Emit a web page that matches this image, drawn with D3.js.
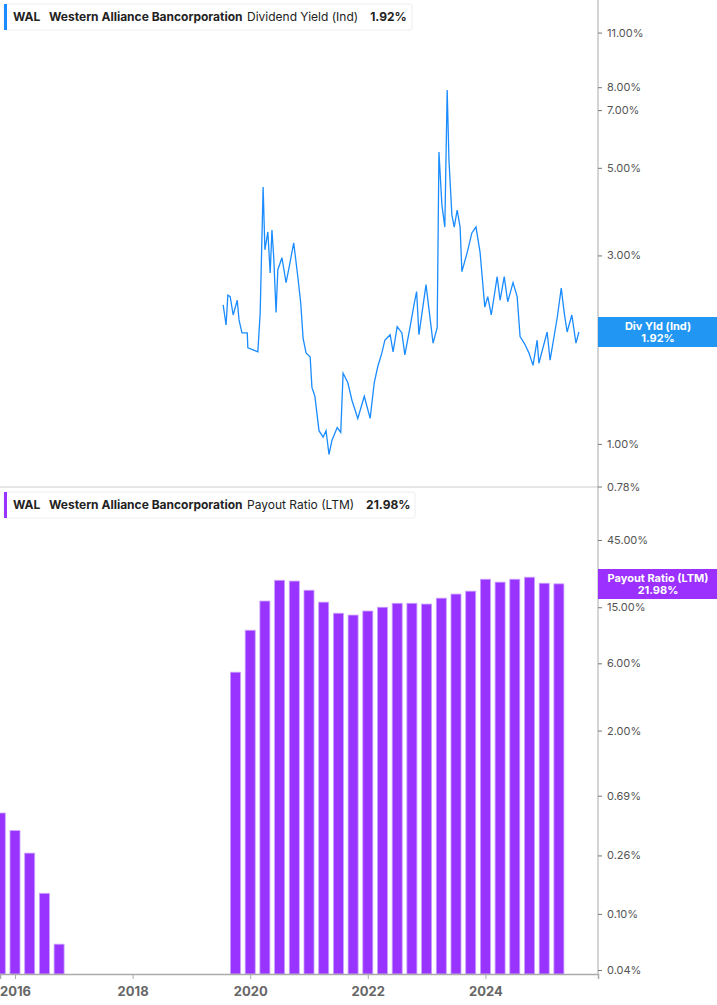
<!DOCTYPE html>
<html>
<head>
<meta charset="utf-8">
<script src="https://cdn.jsdelivr.net/npm/d3@7"></script>
<style>
  body { margin: 0; background: #fff; font-family: Inter, "Noto Sans", sans-serif; }
</style>
</head>
<body>
<svg id="chart" width="717" height="1005"></svg>
<script>
// dividend yield (%), decimal year dates
var yieldDates = [2019.54, 2019.59, 2019.62, 2019.66, 2019.71, 2019.78, 2019.81, 2019.86, 2019.95, 2019.96,
    2020.05, 2020.13, 2020.17, 2020.22, 2020.25, 2020.30, 2020.34, 2020.37, 2020.40, 2020.44,
    2020.47, 2020.54, 2020.61, 2020.66, 2020.74, 2020.81, 2020.86, 2020.90, 2020.95, 2021.02,
    2021.05, 2021.10, 2021.17, 2021.24, 2021.29, 2021.34, 2021.39, 2021.48, 2021.54, 2021.58,
    2021.66, 2021.73, 2021.83, 2021.94, 2022.04, 2022.11, 2022.17, 2022.24, 2022.29, 2022.38,
    2022.43, 2022.50, 2022.58, 2022.63, 2022.72, 2022.79, 2022.83, 2022.87, 2022.99, 2023.11,
    2023.18, 2023.21, 2023.26, 2023.31, 2023.35, 2023.38, 2023.43, 2023.47, 2023.52, 2023.57,
    2023.60, 2023.69, 2023.77, 2023.84, 2023.91, 2023.99, 2024.04, 2024.10, 2024.20, 2024.25,
    2024.32, 2024.38, 2024.47, 2024.54, 2024.59, 2024.66, 2024.74, 2024.81, 2024.88, 2024.91,
    2025.05, 2025.10, 2025.22, 2025.29, 2025.34, 2025.39, 2025.47, 2025.54, 2025.59];
var yieldValues = [2.25, 2.00, 2.38, 2.36, 2.12, 2.31, 2.06, 1.91, 1.91, 1.75,
    1.73, 1.71, 2.15, 4.47, 3.10, 3.44, 2.71, 3.48, 2.97, 2.15,
    2.76, 2.96, 2.56, 2.79, 3.23, 2.65, 2.27, 1.85, 1.70, 1.66,
    1.39, 1.32, 1.08, 1.04, 1.08, 0.94, 1.02, 1.10, 1.07, 1.51,
    1.43, 1.29, 1.16, 1.32, 1.16, 1.43, 1.57, 1.70, 1.83, 1.89,
    1.71, 1.98, 1.91, 1.68, 1.98, 2.27, 2.43, 1.89, 2.53, 1.80,
    1.97, 5.48, 4.03, 3.54, 7.87, 5.24, 3.80, 3.54, 3.91, 3.54,
    2.73, 3.05, 3.42, 3.54, 3.05, 2.22, 2.36, 2.12, 2.65, 2.31,
    2.65, 2.29, 2.56, 2.36, 1.87, 1.80, 1.70, 1.58, 1.83, 1.60,
    1.92, 1.63, 2.08, 2.48, 2.15, 1.92, 2.12, 1.80, 1.92];

// payout ratio (LTM, %), quarterly
var payoutDates = [2015.75, 2016.00, 2016.25, 2016.50, 2016.75,
    2019.75, 2020.00, 2020.25, 2020.50, 2020.75, 2021.00, 2021.25, 2021.50, 2021.75,
    2022.00, 2022.25, 2022.50, 2022.75, 2023.00, 2023.25, 2023.50, 2023.75,
    2024.00, 2024.25, 2024.50, 2024.75, 2025.00, 2025.25];
var payoutValues = [0.52, 0.39, 0.27, 0.14, 0.061,
    5.19, 10.3, 16.6, 23.3, 23.0, 19.8, 16.3, 13.6, 13.2,
    14.1, 15.0, 16.0, 16.0, 15.8, 17.4, 18.6, 19.5,
    23.7, 22.6, 23.7, 24.5, 22.2, 21.98];

var yieldTicks = [11, 8, 7, 5, 3, 2, 1, 0.78];
var payoutTicks = [45, 15, 6, 2, 0.69, 0.26, 0.10, 0.04];
var yearTicks = [2016, 2018, 2020, 2022, 2024];

var blue = "#1a8cff", purple = "#9933ff", grey = "#555";
var plotRight = 598;
var svg = d3.select("#chart");

var x = d3.scaleLinear().domain([2015.745, 2025.915]).range([0, plotRight]);
var yTop = d3.scaleLog().domain([0.78, 13.3]).range([486.5, 0]);
var yBot = d3.scaleLog().domain([0.04, 45]).range([970, 540]);

svg.append("defs").append("clipPath").attr("id", "plotclip")
    .append("rect").attr("x", 0).attr("y", 0).attr("width", plotRight).attr("height", 1005);

// divider and frame
svg.append("line").attr("x1", 0).attr("x2", plotRight).attr("y1", 487).attr("y2", 487)
    .attr("stroke", "#ccc");
svg.append("line").attr("x1", plotRight).attr("x2", plotRight).attr("y1", 0).attr("y2", 974)
    .attr("stroke", "#aaa");

// top line
var line = d3.line()
    .x(function (d) { return x(d[0]); })
    .y(function (d) { return yTop(d[1]); });
svg.append("path")
    .datum(d3.zip(yieldDates, yieldValues))
    .attr("d", line)
    .attr("fill", "none")
    .attr("stroke", blue)
    .attr("stroke-width", 1.3);

// bars
var barW = 10;
svg.append("g").attr("clip-path", "url(#plotclip)")
    .selectAll("rect")
    .data(d3.zip(payoutDates, payoutValues))
    .enter().append("rect")
    .attr("x", function (d) { return x(d[0]) - barW / 2; })
    .attr("y", function (d) { return yBot(d[1]); })
    .attr("width", barW)
    .attr("height", function (d) { return 974 - yBot(d[1]); })
    .attr("fill", purple)
    .attr("stroke", "#c9a0ff")
    .attr("stroke-width", 0.8);

// right axes
function rightAxis(scale, ticks) {
    var g = svg.append("g").attr("transform", "translate(" + plotRight + ",0)")
        .call(d3.axisRight(scale).tickValues(ticks).tickSize(4)
            .tickFormat(function (d) { return d.toFixed(2) + "%"; }));
    g.select(".domain").remove();
    g.selectAll(".tick line").attr("stroke", "#777");
    g.selectAll(".tick text").attr("fill", grey).attr("font-size", 11)
        .attr("font-family", "Inter, sans-serif").attr("x", 9);
}
rightAxis(yTop, yieldTicks);
rightAxis(yBot, payoutTicks);

// bottom axis
var xa = svg.append("g").attr("transform", "translate(0,974)")
    .call(d3.axisBottom(x).tickValues(yearTicks).tickSize(5).tickFormat(d3.format("d")));
xa.select(".domain").attr("stroke", "#aaa").attr("stroke-width", 1.5);
xa.selectAll(".tick line").attr("stroke", "#aaa");
xa.selectAll(".tick text").attr("fill", "#666").attr("font-size", 13)
    .attr("font-weight", "bold").attr("font-family", "Inter, sans-serif").attr("dy", "1.1em");

// value labels on axis
function valueBox(y0, color, title, val) {
    var g = svg.append("g");
    g.append("rect").attr("x", plotRight).attr("y", y0).attr("width", 717 - plotRight)
        .attr("height", 30).attr("fill", color);
    g.append("text").attr("x", 658).attr("y", y0 + 13).attr("text-anchor", "middle")
        .attr("fill", "#fff").attr("font-size", 11).attr("font-weight", "bold").text(title);
    g.append("text").attr("x", 658).attr("y", y0 + 25).attr("text-anchor", "middle")
        .attr("fill", "#fff").attr("font-size", 11).attr("font-weight", "bold").text(val);
}
valueBox(317, "#2196f3", "Div Yld (Ind)", "1.92%");
valueBox(569, "#9b30ff", "Payout Ratio (LTM)", "21.98%");

// legends
function legend(y0, w, color, metric, val) {
    var g = svg.append("g").attr("transform", "translate(4," + y0 + ")");
    g.append("rect").attr("width", w).attr("height", 26).attr("rx", 2)
        .attr("fill", "#fff").attr("stroke", "#eee");
    g.append("rect").attr("width", 3).attr("height", 26).attr("fill", color);
    var t = g.append("text").attr("y", 17).attr("font-size", 12).attr("fill", "#222");
    t.append("tspan").attr("x", 9).attr("font-weight", "bold").text("WAL");
    t.append("tspan").attr("x", 45).attr("font-weight", "bold").text("Western Alliance Bancorporation");
    t.append("tspan").attr("x", 243).text(metric);
    t.append("tspan").attr("dx", 12).attr("font-weight", "bold").text(val);
}
legend(4, 408, blue, "Dividend Yield (Ind)", "1.92%");
legend(492, 411, purple, "Payout Ratio (LTM)", "21.98%");
</script>
</body>
</html>
